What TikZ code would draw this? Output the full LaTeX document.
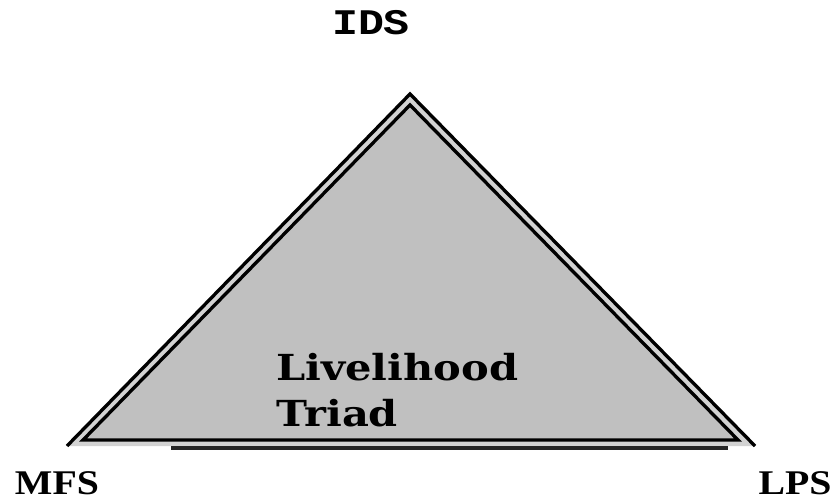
\documentclass[tikz,border=0pt]{standalone}
\usepackage{fontspec}
\usetikzlibrary{positioning}
\newfontfamily\cornerfont[FakeStretch=1.15]{Liberation Serif}
\newfontfamily\apexfont[FakeStretch=1.2]{Liberation Mono}
\newfontfamily\triadfont[FakeStretch=1.16]{DejaVu Serif}
\definecolor{triadgray}{RGB}{192,192,192}
\definecolor{gapgray}{RGB}{210,210,210}

\begin{document}
\begin{tikzpicture}[x=0.02cm, y=-0.02cm,
    edge/.style={draw=black, line width=1.9pt, line join=miter},
    corner/.style={font=\cornerfont\bfseries\fontsize{19.7}{22}\selectfont, inner sep=0pt, anchor=base},
    apex/.style={font=\apexfont\bfseries\fontsize{20.5}{22}\selectfont, inner sep=0pt, anchor=base}
  ]
  \useasboundingbox (0,0) rectangle (834,499);

  % outer triangle
  \coordinate (top) at (410,94);
  \coordinate (bl) at (67,446);
  \coordinate (br) at (755,446);
  \fill[gapgray] (top) -- (bl) -- (br) -- cycle;
  \draw[edge] (bl) -- (top) -- (br);

  % inner triangle
  \coordinate (itop) at (410,105);
  \coordinate (ibl) at (83,440);
  \coordinate (ibr) at (738,440);
  \draw[edge, fill=triadgray] (itop) -- (ibl) -- (ibr) -- cycle;

  % base line
  \coordinate (base1) at (171,448);
  \coordinate (base2) at (728,448);
  \draw[line width=1.9pt, black!85] (base1) -- (base2);

  % labels
  \node[apex] (ids) at (371,35) {IDS};
  \node[corner] (mfs) at (57,494) {MFS};
  \node[corner] (lps) at (795,494) {LPS};
  \node[font=\triadfont\bfseries\fontsize{20.4}{26.1}\selectfont, align=left, anchor=north west, inner sep=0pt] (triad) at (276,353) {Livelihood\\Triad};
\end{tikzpicture}
\end{document}
